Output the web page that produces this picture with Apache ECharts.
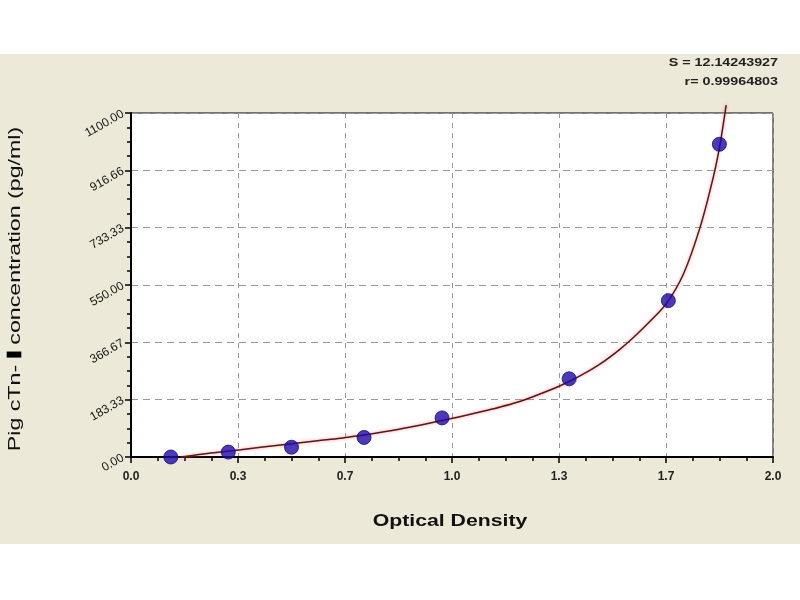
<!DOCTYPE html>
<html>
<head>
<meta charset="utf-8">
<script src="https://cdn.jsdelivr.net/npm/echarts@6/dist/echarts.min.js"></script>
<style>
html,body{margin:0;padding:0;background:#fff;}
#chart{width:800px;height:600px;}
</style>
</head>
<body>
<div id="chart"></div>
<script>
// Standard points (optical density, concentration)
var pointOD = [0.124, 0.303, 0.500, 0.726, 0.969, 1.365, 1.674, 1.833];
var pointConc = [0, 15.6, 31.25, 62.5, 125, 250, 500, 1000];
// Fitted curve
var curveOD = [0.156, 0.249, 0.342, 0.404, 0.487, 0.581, 0.653, 0.726, 0.798, 0.871, 0.943, 0.995, 1.047, 1.100, 1.151, 1.203, 1.260, 1.337, 1.400, 1.462, 1.520, 1.566, 1.620, 1.669, 1.721, 1.773, 1.814, 1.835, 1.854];
var curveConc = [0, 12.8, 23.5, 31, 41, 52, 60, 70, 82, 96, 111, 122, 134, 147, 160, 175, 196, 228, 260, 298, 342, 383, 437, 492, 585, 735, 895, 1000, 1125];
// Tick labels
var xTickLabels = ["0.0", "0.3", "0.7", "1.0", "1.3", "1.7", "2.0"];
var yTickLabels = ["0.00", "183.33", "366.67", "550.00", "733.33", "916.66", "1100.00"];
var statS = "S = 12.14243927";
var statR = "r= 0.99964803";
var xTitle = "Optical Density";
var yTitleA = "Pig cTn- ";
var yTitleB = "\u2160";
var yTitleC = " concentration (pg/ml)";

var pts = pointOD.map(function (x, i) { return [x, pointConc[i]]; });
var curve = curveOD.map(function (x, i) { return [x, curveConc[i]]; });

var chart = echarts.init(document.getElementById('chart'), null, {renderer: 'canvas'});
var FONT = 'Liberation Sans, Arial, sans-serif';
chart.setOption({
  animation: false,
  backgroundColor: '#ffffff',
  graphic: [
    {type: 'rect', z: -10, shape: {x: 0, y: 54, width: 800, height: 490}, style: {fill: '#ECE9D8'}},
    {type: 'text', x: 778, y: 63, scaleX: 1.3, z: 10, style: {text: statS, fill: '#222', font: 'bold 11px ' + FONT, textAlign: 'right', textVerticalAlign: 'middle'}},
    {type: 'text', x: 778, y: 82, scaleX: 1.3, z: 10, style: {text: statR, fill: '#222', font: 'bold 11px ' + FONT, textAlign: 'right', textVerticalAlign: 'middle'}},
    {type: 'text', x: 450, y: 521, scaleX: 1.25, z: 10, style: {text: xTitle, fill: '#111', font: 'bold 17px ' + FONT, textAlign: 'center', textVerticalAlign: 'middle'}},
    {type: 'text', x: 16, y: 289, rotation: Math.PI / 2, scaleX: 1.45, z: 10, style: {
      text: '{n|' + yTitleA + '}{b|' + yTitleB + '}{n|' + yTitleC + '}',
      textAlign: 'center', textVerticalAlign: 'middle',
      rich: {
        n: {fontSize: 16, fontFamily: FONT, fill: '#111', color: '#111'},
        b: {fontSize: 16, fontFamily: FONT, fontWeight: 'bold', fill: '#000', color: '#000', textStroke: '#000', stroke: '#000', lineWidth: 2, textStrokeWidth: 2}
      }
    }}
  ],
  grid: {
    left: 131, right: 27, top: 113, bottom: 143,
    show: true, backgroundColor: '#ffffff', borderColor: '#000', borderWidth: 1
  },
  xAxis: {
    type: 'value', min: 0, max: 2, interval: 1 / 3,
    axisLine: {show: true, lineStyle: {color: '#000', width: 2}},
    axisTick: {show: true, inside: false, length: 6, lineStyle: {color: '#000', width: 1.5}},
    minorTick: {show: true, splitNumber: 4, length: 4, lineStyle: {color: '#000', width: 1.5}},
    splitLine: {show: true, lineStyle: {color: '#999', type: [5, 5], width: 1}},
    axisLabel: {
      margin: 14, color: '#222', fontSize: 12, fontWeight: 'bold', fontFamily: FONT,
      formatter: function (v) { return xTickLabels[Math.round(v * 3)]; }
    }
  },
  yAxis: {
    type: 'value', min: 0, max: 1100, interval: 1100 / 6,
    axisLine: {show: true, lineStyle: {color: '#000', width: 2}},
    axisTick: {show: true, inside: false, length: 6, lineStyle: {color: '#000', width: 1.5}},
    minorTick: {show: true, splitNumber: 4, length: 4, lineStyle: {color: '#000', width: 1.5}},
    splitLine: {show: true, lineStyle: {color: '#999', type: [7, 5], width: 1}},
    axisLabel: {
      margin: 8, rotate: 30, color: '#111', fontSize: 12, fontFamily: FONT,
      formatter: function (v) { return yTickLabels[Math.round(v / (1100 / 6))]; }
    }
  },
  series: [
    {
      type: 'line', data: curve, smooth: 0.3, showSymbol: false, clip: false, z: 2,
      lineStyle: {color: '#5a1818', width: 1.5, shadowColor: 'rgba(255,110,110,0.8)', shadowBlur: 3}
    },
    {
      type: 'scatter', data: pts, symbol: 'circle', symbolSize: 14, z: 3,
      itemStyle: {color: '#1e0aa8', borderColor: '#14067e', borderWidth: 1}
    }
  ]
});
</script>
</body>
</html>
